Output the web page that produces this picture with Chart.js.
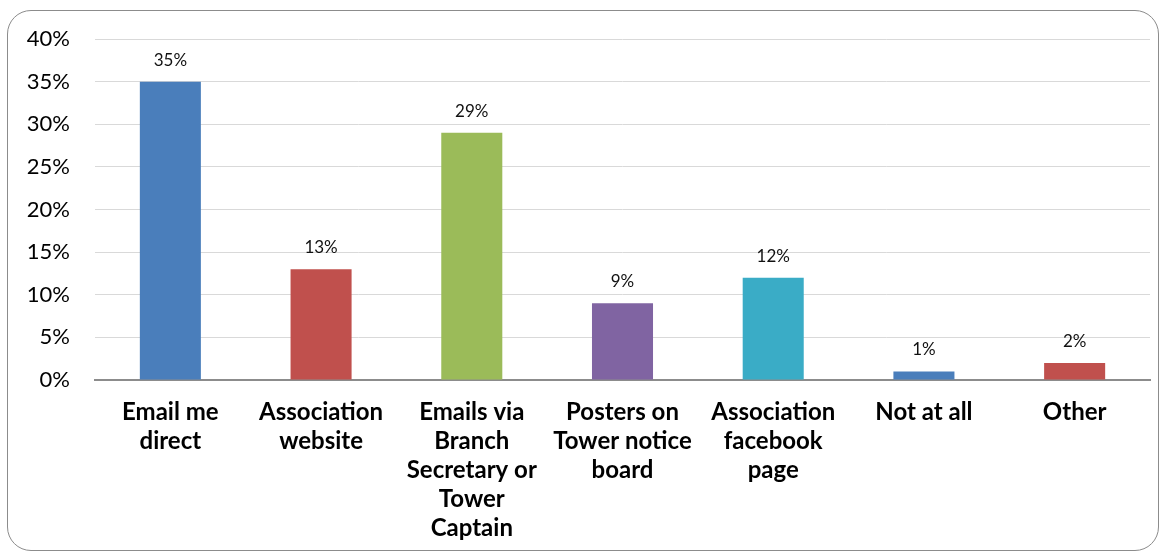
<!DOCTYPE html>
<html>
<head>
<meta charset="utf-8">
<script src="https://cdn.jsdelivr.net/npm/chart.js@4.4.0/dist/chart.umd.min.js"></script>
<style>
  html, body { margin: 0; padding: 0; background: #fff; }
  #wrap { position: relative; width: 1170px; height: 554px; }
  #frame {
    position: absolute; left: 7px; top: 10px; width: 1152px; height: 541px;
    border: 1px solid #8c8c8c; border-radius: 24px; box-sizing: border-box;
  }
  canvas { position: absolute; left: 0; top: 0; }
</style>
</head>
<body>
<div id="wrap">
  <div id="frame"></div>
  <canvas id="chart" width="1170" height="554"></canvas>
</div>
<script>
const categories = [
  ['Email me', 'direct'],
  ['Association', 'website'],
  ['Emails via', 'Branch', 'Secretary or', 'Tower', 'Captain'],
  ['Posters on', 'Tower notice', 'board'],
  ['Association', 'facebook', 'page'],
  'Not at all',
  'Other'
]
const percents = [35, 13, 29, 9, 12, 1, 2]
const barColors = ['#4a7ebb', '#c0504d', '#9bbb59', '#8064a2', '#3aacc6', '#4a7ebb', '#c0504d']
const yTicks = [0, 5, 10, 15, 20, 25, 30, 35, 40]

const FONT = "Lato, 'Open Sans', sans-serif"

// value labels centred above each bar
const barLabels = {
  id: 'barLabels',
  afterDatasetsDraw(chart) {
    const ctx = chart.ctx
    const meta = chart.getDatasetMeta(0)
    ctx.save()
    ctx.font = '17px ' + FONT
    ctx.fillStyle = '#111'
    ctx.textAlign = 'center'
    ctx.textBaseline = 'bottom'
    meta.data.forEach((bar, i) => {
      ctx.fillText(percents[i] + '%', bar.x, bar.y - 13)
    })
    ctx.restore()
  }
}

new Chart(document.getElementById('chart').getContext('2d'), {
  type: 'bar',
  data: {
    labels: categories,
    datasets: [{
      data: percents,
      backgroundColor: barColors,
      barPercentage: 0.405,
      categoryPercentage: 1
    }]
  },
  options: {
    responsive: false,
    animation: false,
    layout: { padding: { left: 0, top: 39, right: 20, bottom: 0 } },
    plugins: { legend: { display: false }, tooltip: { enabled: false } },
    scales: {
      y: {
        min: 0,
        max: 40,
        afterFit(scale) { scale.width = 95 },
        afterBuildTicks(scale) { scale.ticks = yTicks.map(v => ({ value: v })) },
        ticks: {
          padding: 25,
          color: '#000',
          font: { family: FONT, size: 22 },
          callback: v => v + '%'
        },
        grid: { color: '#d9d9d9', drawTicks: false },
        border: { display: false }
      },
      x: {
        afterFit(scale) { scale.height = 554 - 380 },
        ticks: {
          padding: 10,
          maxRotation: 0,
          autoSkip: false,
          color: '#000',
          font: { family: FONT, size: 24, weight: 'bold', lineHeight: '29px' }
        },
        grid: { display: false },
        border: { color: '#8c8c8c', width: 2 }
      }
    }
  },
  plugins: [barLabels]
})
</script>
</body>
</html>
